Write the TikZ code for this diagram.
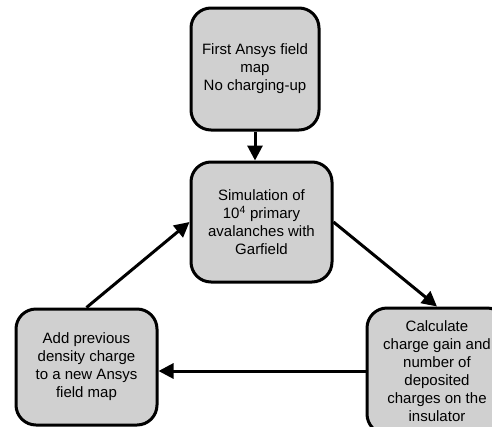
\documentclass[tikz,border=0pt]{standalone}
\usepackage{fontspec}
\setmainfont{Liberation Sans}
\usetikzlibrary{arrows.meta}
\definecolor{boxfill}{RGB}{208,208,208}
\begin{document}
\begin{tikzpicture}[x=1pt,y=-1pt,
  box/.style={draw=black, line width=3pt, fill=boxfill, rounded corners=20pt,
    align=center, font=\fontsize{15}{18}\selectfont, inner sep=0pt},
  conn/.style={line width=3pt, -{Triangle[length=15pt,width=15pt]}}]
\useasboundingbox (0,0) rectangle (492,426);
\node[box, minimum width=128pt, minimum height=122pt] (top) at (255,69)
  {First Ansys field\\map\\No charging-up};
\node[box, minimum width=141pt, minimum height=120pt] (mid) at (261.5,222)
  {Simulation of\\10\textsuperscript{4} primary\\avalanches with\\Garfield};
\node[box, minimum width=141pt, minimum height=116pt] (left) at (86.5,367)
  {Add previous\\density charge\\to a new Ansys\\field map};
\node[box, minimum width=140pt, minimum height=126pt] (right) at (437,371)
  {Calculate\\charge gain and\\number of\\deposited\\charges on the\\insulator};
\draw[conn] (top.south) -- (top.south |- mid.north);
\draw[conn] (mid.east) -- (right.north);
\draw[conn] (right.west) -- (right.west -| left.east);
\draw[conn] (left.north) -- (mid.west);
\end{tikzpicture}
\end{document}
